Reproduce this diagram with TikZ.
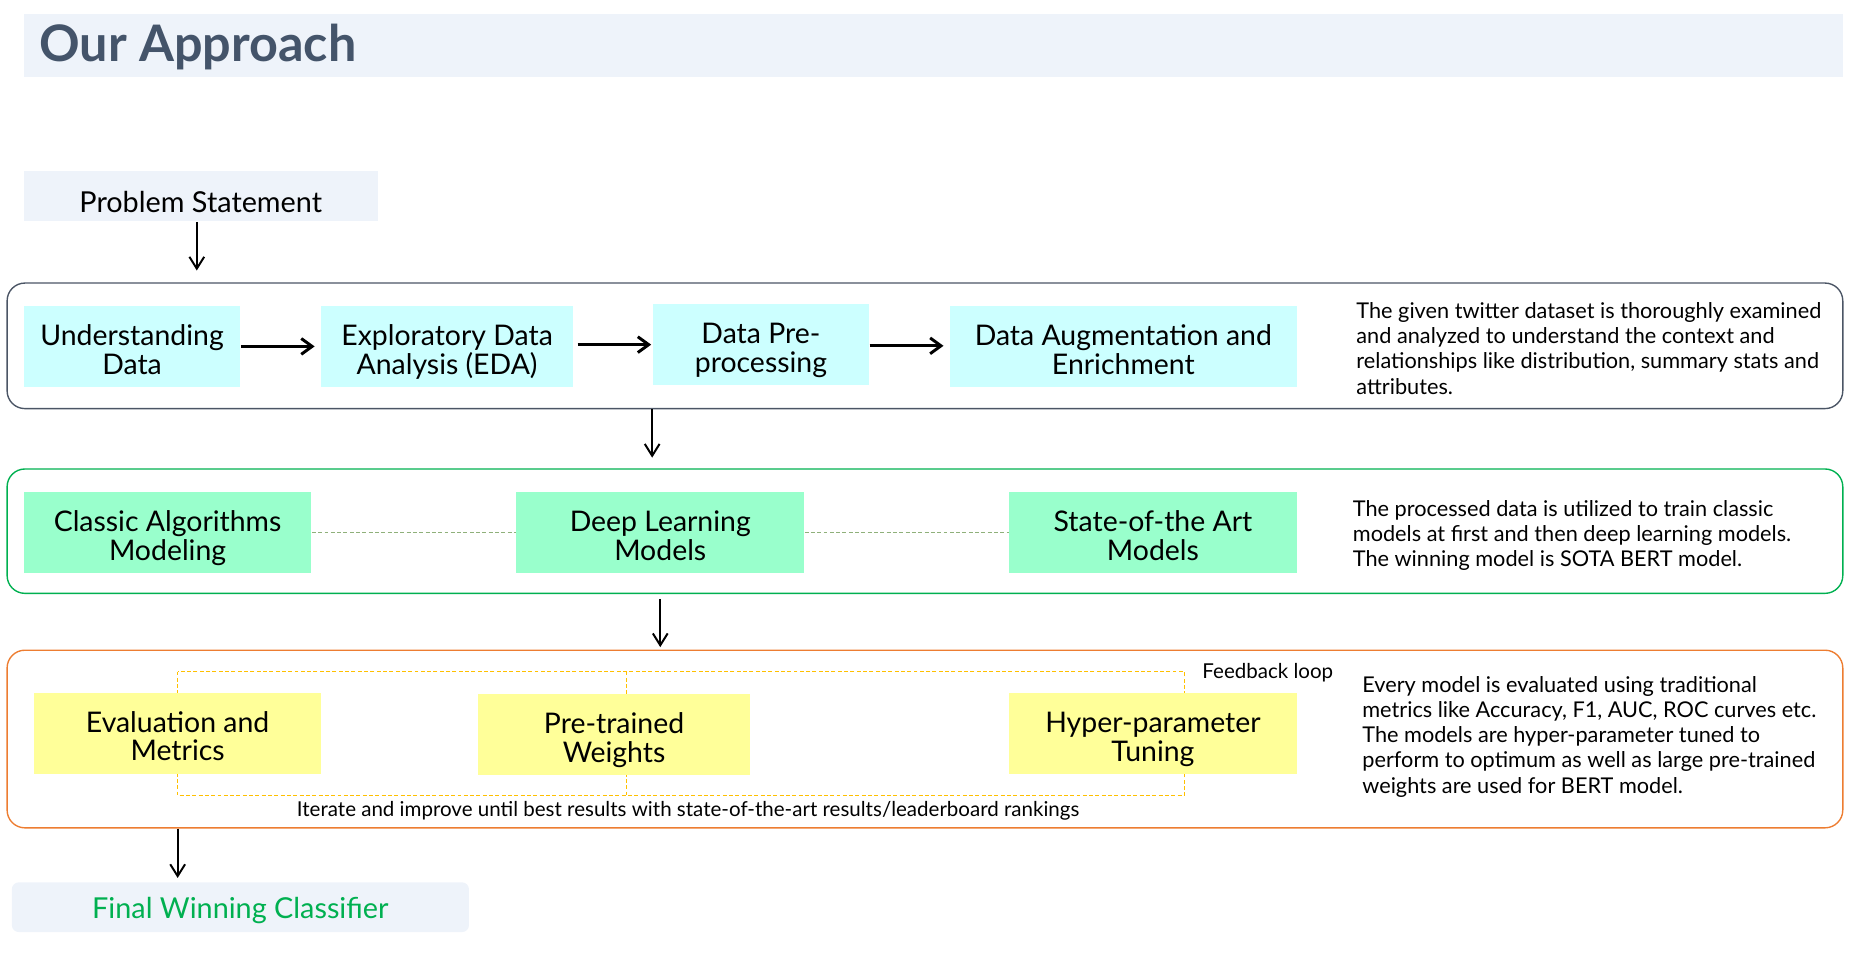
\documentclass[tikz,border=0pt]{standalone}
\usepackage{fontspec}
\setmainfont{Lato}
\usetikzlibrary{arrows.meta}
\definecolor{band}{HTML}{EEF3FA}
\definecolor{titlec}{HTML}{44546A}
\definecolor{slate}{HTML}{4B5565}
\definecolor{grn}{HTML}{00B050}
\definecolor{orng}{HTML}{ED7D31}
\definecolor{cyanf}{HTML}{CCFFFF}
\definecolor{grnf}{HTML}{99FFCC}
\definecolor{ylwf}{HTML}{FFFF99}
\definecolor{gold}{HTML}{FFC000}
\definecolor{dashg}{HTML}{8FB07A}
\begin{document}
\begin{tikzpicture}[x=0.6pt,y=-0.6pt,
  boxtxt/.style={font=\fontsize{14.4}{14.6}\selectfont, align=center, inner sep=0pt, minimum height=41pt,
    text height=28.2pt, text depth=0pt},
  cyanbox/.style={boxtxt, fill=cyanf},
  grnbox/.style={boxtxt, fill=grnf},
  ylwbox/.style={boxtxt, fill=ylwf},
  outer/.style={rounded corners=9pt, line width=0.7pt, minimum width=930pt, inner sep=0pt},
  desc/.style={font=\fontsize{11}{12.8}\selectfont, align=left, anchor=north west, inner sep=0pt},
  arr/.style={line width=1pt, -{Straight Barb[length=6pt,width=7.5pt]}},
  harr/.style={line width=1.5pt, -{Straight Barb[length=5.5pt,width=8pt]}},
  lbl/.style={font=\fontsize{10.4}{12}\selectfont, inner sep=0pt},
  dashline/.style={dash pattern=on 2pt off 1.2pt}
]
\useasboundingbox (0,0) rectangle (1568,805);
% title band
\fill[band] (20,12) rectangle (1556,65);
\node[anchor=base west, inner sep=0pt, text=titlec, font=\fontsize{25.5}{25.5}\selectfont\bfseries] (title) at (33,52) {Our Approach};

% problem statement
\node[fill=band, minimum width=179.4pt, minimum height=25.8pt, inner sep=0pt, text height=18.6pt, text depth=2.2pt, font=\fontsize{14.6}{14.6}\selectfont] (ps) at (169.5,165.5) {Problem Statement};

% outer boxes
\node[outer, draw=slate, minimum height=63.6pt] (b1) at (781,292) {};
\node[outer, draw=grn, minimum height=63pt] (b2) at (781,448.5) {};
\node[outer, draw=orng, minimum height=90pt] (b3) at (781,624) {};

% row 1
\node[cyanbox, minimum width=109.8pt] (ud) at (111.5,292.5) {Understanding\\Data};
\node[cyanbox, minimum width=127.8pt] (eda) at (377.5,292.5) {Exploratory Data\\Analysis (EDA)};
\node[cyanbox, minimum width=109.8pt] (dpp) at (642.5,291) {Data Pre-\\processing};
\node[cyanbox, minimum width=175.8pt] (dae) at (948.5,292.5) {Data Augmentation and\\Enrichment};
\node[desc] (d1) at (1145,255) {The given twitter dataset is thoroughly examined\\and analyzed to understand the context and\\relationships like distribution, summary stats and\\attributes.};

\draw[harr] (ud.east) -- ([xshift=-3pt]eda.west);
\draw[harr] ([xshift=2pt]eda.east |- dpp.center) -- ([xshift=-0.5pt]dpp.west);
\draw[harr] ([yshift=-0.6pt]dpp.east) -- ([xshift=-3pt,yshift=-0.6pt]dae.west |- dpp.east);

% row 2
\node[grnbox, minimum width=145.8pt] (cam) at (141.5,450) {Classic Algorithms\\Modeling};
\node[grnbox, minimum width=145.8pt] (dlm) at (557.5,450) {Deep Learning\\Models};
\node[grnbox, minimum width=145.8pt] (sota) at (973.5,450) {State-of-the Art\\Models};
\draw[dashg, dashline, line width=0.5pt] (cam.east) -- (dlm.west);
\draw[dashg, dashline, line width=0.5pt] (dlm.east) -- (sota.west);
\node[desc] (d2) at (1142,422) {The processed data is utilized to train classic\\models at first and then deep learning models.\\The winning model is SOTA BERT model.};

% row 3 feedback loop
\coordinate (fl1) at (150,567);
\coordinate (fl2) at (1000,672);
\coordinate (fm1) at (529,567);
\coordinate (fm2) at (529,672);
\draw[gold, dashline, line width=0.6pt] (fl1) rectangle (fl2);
\draw[gold, dashline, line width=0.6pt] (fm1) -- (fm2);
\node[ylwbox, minimum width=145.2pt] (eval) at (150,619) {Evaluation and\\Metrics};
\node[ylwbox, minimum width=137.4pt] (ptw) at (518.5,620) {Pre-trained\\Weights};
\node[ylwbox, minimum width=145.8pt] (hpt) at (973.5,619.5) {Hyper-parameter\\Tuning};
\node[lbl, anchor=west] (fb) at (1015,568) {Feedback loop};
\node[lbl] (it) at (581,685) {Iterate and improve until best results with state-of-the-art results/leaderboard rankings};
\node[desc] (d3) at (1150,570.5) {Every model is evaluated using traditional\\metrics like Accuracy, F1, AUC, ROC curves etc.\\The models are hyper-parameter tuned to\\perform to optimum as well as large pre-trained\\weights are used for BERT model.};

% final
\node[fill=band, rounded corners=3.5pt, minimum width=231.6pt, minimum height=25.2pt, inner sep=0pt, text height=14.4pt, text depth=3pt, text=grn, font=\fontsize{14.6}{14.6}\selectfont] (fin) at (203,766) {Final Winning Classifier};

% vertical arrows
\draw[arr] ([xshift=-2pt]ps.south) -- ([xshift=-2pt,yshift=6pt]ps.south |- b1.north);
\draw[arr] (b1.south -| dpp.west) -- ([yshift=5.4pt]b2.north -| dpp.west);
\draw[arr] ([yshift=-2.4pt]b2.south -| dlm) -- ([yshift=1.2pt]b3.north -| dlm);
\draw[arr] (b3.south -| eval) -- ([yshift=2pt]fin.north -| eval);
\end{tikzpicture}
\end{document}
